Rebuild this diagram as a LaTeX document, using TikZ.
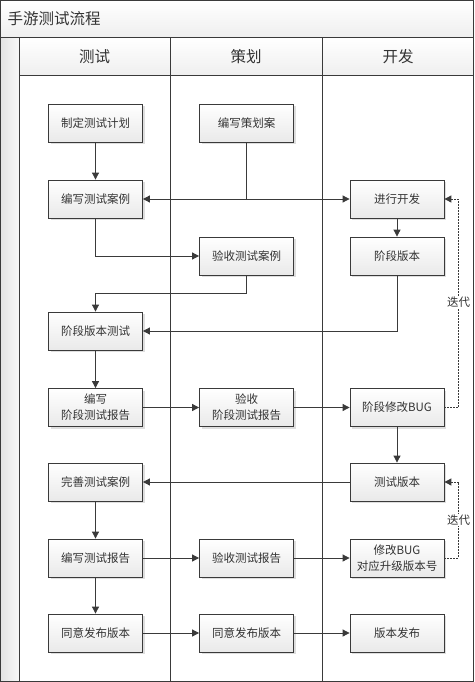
\documentclass[tikz,border=0pt]{standalone}
\usepackage{fontspec}
\newfontfamily\cjk{Noto Sans CJK SC}
\usetikzlibrary{arrows.meta,shadows}
\definecolor{ln}{HTML}{3A3A3A}
\definecolor{tx}{HTML}{333333}
\begin{document}
\begin{tikzpicture}[x=1pt,y=-1pt,
  flow/.style={draw=ln, line width=0.8pt, minimum width=94pt, minimum height=38pt, inner sep=1pt,
    top color=white, bottom color=gray!17,
    drop shadow={shadow xshift=2pt,shadow yshift=-2pt,fill=black,opacity=0.13},
    font=\cjk\fontsize{11.5}{16}\selectfont, text=tx, align=center},
  arr/.style={draw=ln, line width=0.8pt, -{Triangle[length=7pt,width=7pt]}},
  plain/.style={draw=ln, line width=0.8pt},
  dot/.style={draw=ln, line width=0.9pt, dash pattern=on 2pt off 1pt, -{Triangle[length=7pt,width=7pt]}},
  frame/.style={draw=ln, line width=1pt},
  head/.style={font=\cjk\fontsize{15.5}{18}\selectfont, text=tx},
  lbl/.style={font=\cjk\fontsize{11.5}{14}\selectfont, text=tx, fill=white, inner sep=1pt}]
\useasboundingbox (0,0) rectangle (474,682);
% bands
\shade[top color=white, bottom color=gray!13] (0,0) rectangle (474,38);
\shade[top color=white, bottom color=gray!13] (19,38) rectangle (474,76);
\shade[left color=gray!22, right color=gray!6] (0,38) rectangle (19,682);
% frame lines
\draw[frame] (0.5,0.5) rectangle (473.5,681.5);
\draw[frame] (0,38) -- (474,38);
\draw[frame] (19,38) -- (19,682);
\draw[frame] (19,76) -- (474,76);
\draw[frame] (170,38) -- (170,682);
\draw[frame] (322,38) -- (322,682);
% titles
\node[head, anchor=west] (title) at (4,19) {手游测试流程};
\node[head] (h1) at (94.5,57) {测试};
\node[head] (h2) at (246,57) {策划};
\node[head] (h3) at (398,57) {开发};
% boxes
\node[flow] (a1) at (95.5,123) {制定测试计划};
\node[flow] (b1) at (246.5,123) {编写策划案};
\node[flow] (a2) at (95.5,199) {编写测试案例};
\node[flow] (c2) at (397,199) {进行开发};
\node[flow] (b3) at (246.5,256) {验收测试案例};
\node[flow] (c3) at (397,256) {阶段版本};
\node[flow] (a4) at (95.5,331) {阶段版本测试};
\node[flow] (a5) at (95.5,407.5) {编写\\阶段测试报告};
\node[flow] (b5) at (246.5,407.5) {验收\\阶段测试报告};
\node[flow] (c5) at (397,407.5) {阶段修改BUG};
\node[flow] (a6) at (95.5,482) {完善测试案例};
\node[flow] (c6) at (397,482) {测试版本};
\node[flow] (a7) at (95.5,558) {编写测试报告};
\node[flow] (b7) at (246.5,558) {验收测试报告};
\node[flow] (c7) at (397,558) {修改BUG\\对应升级版本号};
\node[flow] (a8) at (95.5,633) {同意发布版本};
\node[flow] (b8) at (246.5,633) {同意发布版本};
\node[flow] (c8) at (397,633) {版本发布};
% helper coordinates
\coordinate (k4) at (95.5,293);
\coordinate (loop) at (458.5,0);
% connectors
\draw[arr] (a1) -- (a2);
\draw[plain] (b1.south) -- (b1.south |- a2.east);
\draw[draw=ln, line width=0.8pt, {Triangle[length=7pt,width=7pt]}-{Triangle[length=7pt,width=7pt]}] (a2.east) -- (c2.west);
\draw[arr] (a2.south) |- (b3.west);
\draw[arr] (b3.south) |- (k4) -- (a4.north);
\draw[arr] (c2) -- (c3);
\draw[arr] (c3.south) |- (a4.east);
\draw[arr] (a4) -- (a5);
\draw[arr] (a5) -- (b5);
\draw[arr] (b5) -- (c5);
\draw[dot] (c5.east) -- (c5.east -| loop) |- (c2.east);
\node[lbl] (it1) at (458.5,302) {迭代};
\draw[arr] (c5) -- (c6);
\draw[arr] (c6) -- (a6);
\draw[arr] (a6) -- (a7);
\draw[arr] (a7) -- (b7);
\draw[arr] (b7) -- (c7);
\draw[dot] (c7.east) -- (c7.east -| loop) |- (c6.east);
\node[lbl] (it2) at (458.5,520) {迭代};
\draw[arr] (a7) -- (a8);
\draw[arr] (a8) -- (b8);
\draw[arr] (b8) -- (c8);
\end{tikzpicture}
\end{document}
